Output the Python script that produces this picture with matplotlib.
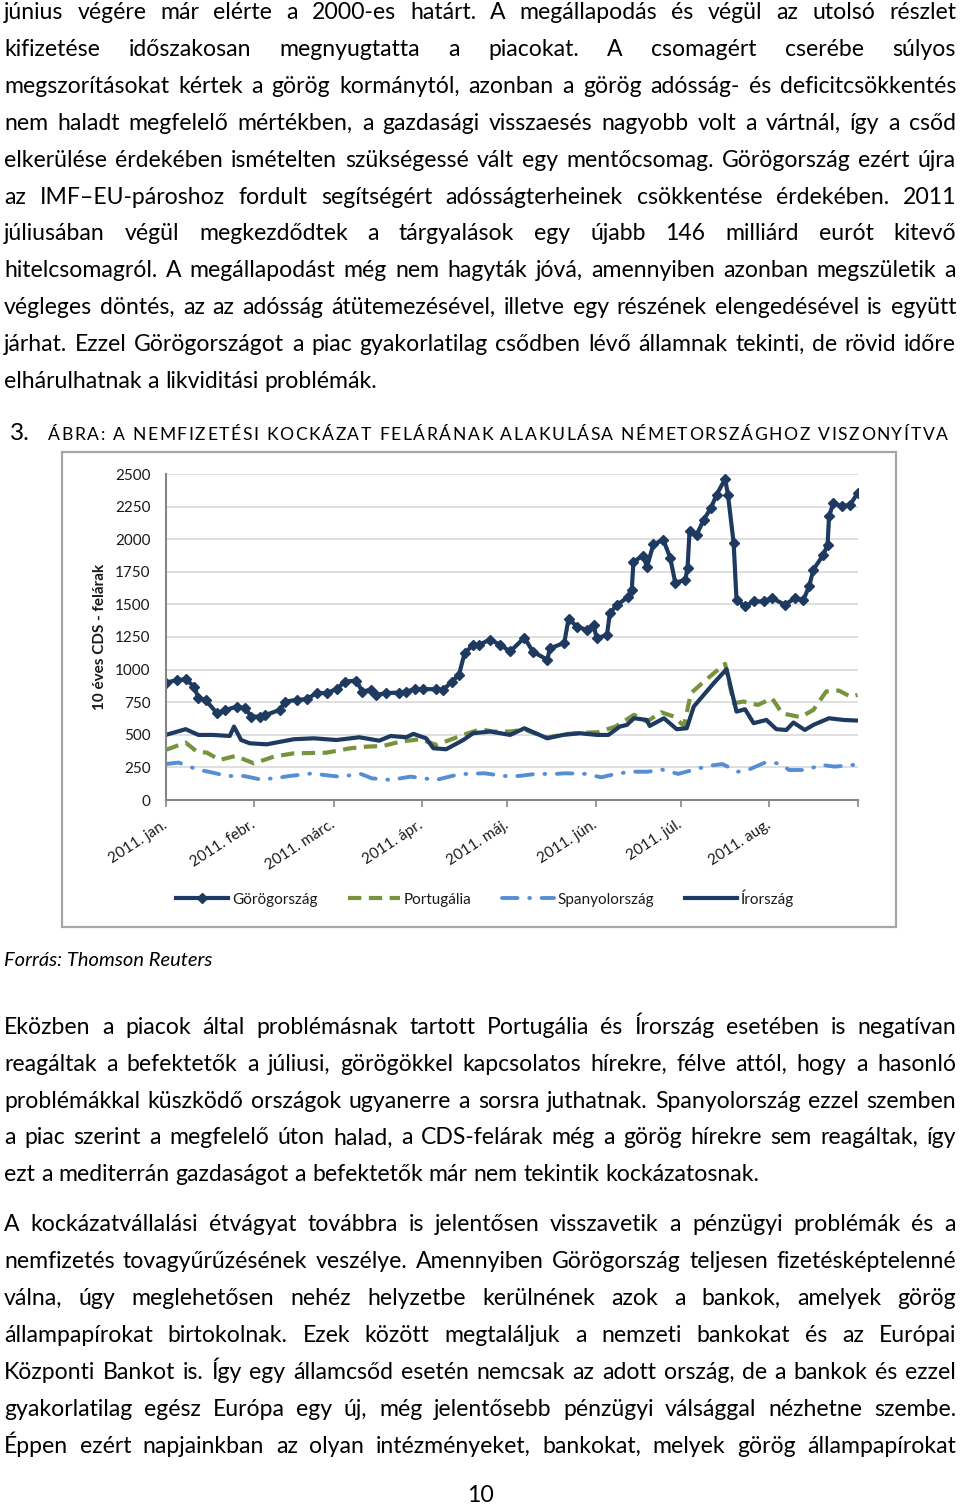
import numpy as np
import pandas as pd
import matplotlib
matplotlib.use('Agg')
import matplotlib.pyplot as plt
from matplotlib.patches import Rectangle
from matplotlib.lines import Line2D

W, H = 960, 1505
FONT = ['Lato', 'DejaVu Sans']

# napok 2011. jan. 1-tol szamolva, ertekek bazispontban
gr_day = [0, 4, 7, 10, 11.5, 14, 18, 21, 25, 28, 30, 33, 35, 40, 42, 46, 49.5, 53, 56.5, 60,
          63, 67, 69, 72, 74, 77.5, 82, 84.5, 87.5, 90.5, 95, 97.5, 100.5, 103, 105, 108, 110, 114,
          117.5, 121, 126, 129, 134, 135, 140, 141.5, 144.5, 148, 150.3, 151.4, 155, 156, 158.5,
          162.5, 163.7, 164.3, 167.8, 169, 171.3, 174.8, 177.2, 179, 182.5, 183.3, 184, 186.5, 189,
          191.5, 193.5, 196.5, 197.5, 199.5, 200.5, 203.5, 206.5, 210, 213, 217.5, 221, 224, 226,
          227.5, 231, 232.5, 233, 234.5, 237.5, 240.5, 243]
gr_val = [900, 920, 925, 870, 780, 768, 665, 690, 717, 704, 640, 640, 652, 690, 755, 768, 773, 820, 820, 850,
          908, 916, 832, 845, 806, 820, 824, 832, 850, 850, 850, 845, 908, 960, 1126, 1190, 1190, 1230,
          1190, 1139, 1245, 1137, 1076, 1163, 1205, 1390, 1329, 1304, 1342, 1240, 1265, 1432, 1495,
          1559, 1610, 1827, 1875, 1785, 1960, 1995, 1858, 1665, 1689, 1779, 2060, 2034, 2150,
          2239, 2341, 2462, 2341, 1970, 1535, 1484, 1523, 1523, 1548, 1497, 1548, 1535, 1638,
          1766, 1881, 1958, 2175, 2277, 2252, 2265, 2354]

pt_day = [0, 7, 11, 14.5, 19, 24.5, 28, 31, 38, 45, 56.5, 65, 70.5, 76.5, 82.5, 89.5, 95, 103.5, 110.5, 115,
          121, 126, 134, 140, 146, 152, 158, 164.5, 169, 174, 178.5, 182, 184.5, 190, 196.5, 199.5,
          203, 208, 213, 216.5, 223, 227.5, 232, 236.5, 240.5, 243]
pt_val = [384, 440, 371, 363, 307, 338, 307, 281, 333, 358, 363, 397, 409, 415, 448, 466, 422, 491, 543, 525,
          525, 540, 478, 505, 515, 520, 563, 653, 601, 673, 640, 568, 819, 926, 1044, 742,
          755, 729, 780, 665, 635, 691, 832, 839, 793, 806]

es_day = [0, 4.5, 11, 16.5, 21.5, 27.5, 33, 38, 43.5, 52, 55.5, 61, 68.5, 72.5, 79, 86, 95, 102, 105.5, 112,
          118.5, 124, 130, 137, 140.5, 147.5, 153, 158, 163.5, 169.5, 174, 180, 186, 190.5, 195.5, 201,
          204.5, 210.5, 215.5, 219, 224.5, 230.5, 235, 241.5]
es_val = [276, 287, 235, 210, 184, 184, 159, 166, 184, 205, 192, 179, 200, 166, 154, 179, 154, 192, 200, 205,
          184, 184, 200, 200, 205, 200, 174, 200, 217, 217, 235, 200, 235, 261, 276, 217,
          230, 287, 281, 230, 230, 269, 256, 269]

ir_day = [0, 7, 11.5, 16.5, 22.5, 24, 26.5, 29.5, 35.5, 45, 52, 60, 68, 75, 79, 84.5, 87, 91.5, 94, 98.5,
          104.5, 108, 114, 121, 126, 134, 139.5, 145.5, 151.5, 155.5, 159.5, 162, 164.5, 169, 170, 175,
          179.5, 183, 185.5, 190, 192.5, 197, 200.5, 203.5, 206.5, 211, 214.5, 218, 220.5, 224.5,
          227.5, 233, 238, 243]
ir_val = [499, 543, 499, 499, 491, 563, 460, 435, 427, 466, 473, 460, 481, 455, 491, 481, 507, 473, 397, 389,
          460, 512, 525, 499, 550, 473, 499, 512, 499, 499, 563, 576, 627, 614, 568, 627,
          543, 550, 717, 832, 896, 1003, 678, 696, 589, 614, 543, 537, 594, 537,
          576, 627, 614, 609]

month_starts = ['2011-01-01', '2011-02-01', '2011-03-01', '2011-04-01', '2011-05-01',
                '2011-06-01', '2011-07-01', '2011-08-01', '2011-09-01']
month_labels = ['2011. jan.', '2011. febr.', '2011. márc.', '2011. ápr.', '2011. máj.',
                '2011. jún.', '2011. júl.', '2011. aug.', '']
series_names = ['Görögország', 'Portugália', 'Spanyolország', 'Írország']
y_ticks = [0, 250, 500, 750, 1000, 1250, 1500, 1750, 2000, 2250, 2500]

para1 = [
    "június végére már elérte a 2000-es határt. A megállapodás és végül az utolsó részlet",
    "kifizetése időszakosan megnyugtatta a piacokat. A csomagért cserébe súlyos",
    "megszorításokat kértek a görög kormánytól, azonban a görög adósság- és deficitcsökkentés",
    "nem haladt megfelelő mértékben, a gazdasági visszaesés nagyobb volt a vártnál, így a csőd",
    "elkerülése érdekében ismételten szükségessé vált egy mentőcsomag. Görögország ezért újra",
    "az IMF–EU-pároshoz fordult segítségért adósságterheinek csökkentése érdekében. 2011",
    "júliusában végül megkezdődtek a tárgyalások egy újabb 146 milliárd eurót kitevő",
    "hitelcsomagról. A megállapodást még nem hagyták jóvá, amennyiben azonban megszületik a",
    "végleges döntés, az az adósság átütemezésével, illetve egy részének elengedésével is együtt",
    "járhat. Ezzel Görögországot a piac gyakorlatilag csődben lévő államnak tekinti, de rövid időre",
    "elhárulhatnak a likviditási problémák.",
]
para2 = [
    "Eközben a piacok által problémásnak tartott Portugália és Írország esetében is negatívan",
    "reagáltak a befektetők a júliusi, görögökkel kapcsolatos hírekre, félve attól, hogy a hasonló",
    "problémákkal küszködő országok ugyanerre a sorsra juthatnak. Spanyolország ezzel szemben",
    "a piac szerint a megfelelő úton halad, a CDS-felárak még a görög hírekre sem reagáltak, így",
    "ezt a mediterrán gazdaságot a befektetők már nem tekintik kockázatosnak.",
]
para3 = [
    "A kockázatvállalási étvágyat továbbra is jelentősen visszavetik a pénzügyi problémák és a",
    "nemfizetés tovagyűrűzésének veszélye. Amennyiben Görögország teljesen fizetésképtelenné",
    "válna, úgy meglehetősen nehéz helyzetbe kerülnének azok a bankok, amelyek görög",
    "állampapírokat birtokolnak. Ezek között megtaláljuk a nemzeti bankokat és az Európai",
    "Központi Bankot is. Így egy államcsőd esetén nemcsak az adott ország, de a bankok és ezzel",
    "gyakorlatilag egész Európa egy új, még jelentősebb pénzügyi válsággal nézhetne szembe.",
    "Éppen ezért napjainkban az olyan intézményeket, bankokat, melyek görög állampapírokat",
]


def fx(x):
    return x / W


def fy(y):
    return 1 - y / H


fig = plt.figure(figsize=(W / 100, H / 100), dpi=100)
fig.patch.set_facecolor('white')
renderer = fig.canvas.get_renderer()


def width_of(s, size, **kw):
    t = fig.text(0, 0, s, fontsize=size, family=FONT, **kw)
    w = t.get_window_extent(renderer).width
    t.remove()
    return w


# betumeret: a leghosszabb sor ferjen ki
L, R = 4, 956
probe = 16
space_probe = width_of('x x', probe) - width_of('xx', probe)
maxw = max(width_of(l, probe) for l in para1 + para2 + para3)
body = min(16.6, probe * (R - L - 4) / maxw)
space_w = space_probe * body / probe


def justify(lines, base0, step, last_left=True):
    for i, line in enumerate(lines):
        y = base0 + i * step
        words = line.split(' ')
        objs = [fig.text(0, fy(y), w, fontsize=body, family=FONT, va='baseline', color='black')
                for w in words]
        ws = [o.get_window_extent(renderer).width for o in objs]
        if (i == len(lines) - 1 and last_left) or len(words) == 1:
            gap = space_w
        else:
            gap = (R - L - sum(ws)) / (len(words) - 1)
        x = L
        for o, w in zip(objs, ws):
            o.set_x(fx(x))
            x += w + gap


justify(para1, 19, 36.9)
justify(para2, 1034, 36.8)
justify(para3, 1231, 37.0, last_left=False)

# abra cim
fig.text(fx(10), fy(440), '3.', fontsize=body + 1, family=FONT, va='baseline')
cap = 'ÁBRA: A NEMFIZETÉSI KOCKÁZAT FELÁRÁNAK ALAKULÁSA NÉMETORSZÁGHOZ VISZONYÍTVA'
csize = 12.6
cobjs = [fig.text(0, fy(440), c, fontsize=csize, family=FONT, va='baseline') for c in cap]
cws = [width_of(c, csize) if c != ' ' else width_of('x x', csize) - width_of('xx', csize) for c in cap]
extra = (948 - 48 - sum(cws)) / (len(cap) - 1)
x = 48
for o, w in zip(cobjs, cws):
    o.set_x(fx(x))
    x += w + extra

# keret
fig.patches.append(Rectangle((fx(62), fy(927)), fx(896) - fx(62), fy(452) - fy(927),
                             transform=fig.transFigure, fill=False, edgecolor='#A6A6A6', lw=1.6))

ax = fig.add_axes([fx(165.7), fy(800), fx(857.5) - fx(165.7), fy(474) - fy(800)])
start = pd.Timestamp('2011-01-01')


def to_dates(days):
    return start + pd.to_timedelta(np.array(days, dtype=float), unit='D')


navy = '#1F3A60'
green = '#77933C'
blue = '#558ED5'

ax.plot(to_dates(es_day), es_val, color=blue, lw=2.8, dashes=(4.0, 3.0, 0.2, 3.0),
        dash_capstyle='round', solid_capstyle='round')
ax.plot(to_dates(pt_day), pt_val, color=green, lw=3.0, dashes=(3.2, 1.8), dash_capstyle='butt')
ax.plot(to_dates(ir_day), ir_val, color=navy, lw=3.0, solid_joinstyle='round')
ax.plot(to_dates(gr_day), gr_val, color=navy, lw=3.0, marker='D', ms=5, mec=navy, mfc=navy,
        solid_joinstyle='round')

ticks = pd.to_datetime(month_starts)
ax.set_xlim(ticks[0], ticks[-1])
ax.set_ylim(0, 2500)
ax.set_yticks(y_ticks)
ax.set_yticklabels([str(v) for v in y_ticks], family=FONT, fontsize=11, color='#1a1a1a')
ax.set_xticks(ticks)
ax.set_xticklabels(month_labels, family=FONT, fontsize=11, color='#1a1a1a')
for lab in ax.get_xticklabels():
    lab.set_rotation(33)
    lab.set_ha('right')
    lab.set_va('center')
    lab.set_rotation_mode('anchor')
ax.tick_params(axis='y', length=0, pad=11)
ax.tick_params(axis='x', length=5, width=1.2, color='#868686', direction='out', pad=12)
ax.grid(axis='y', color='#D9D9D9', lw=1.2)
ax.set_axisbelow(True)
for s in ['top', 'right']:
    ax.spines[s].set_visible(False)
for s in ['left', 'bottom']:
    ax.spines[s].set_color('#868686')
    ax.spines[s].set_linewidth(1.5)

fig.text(fx(100), fy(637), '10 éves CDS - felárak', rotation=90, ha='center', va='center',
         fontsize=11, fontweight='bold', family=FONT, color='#1a1a1a')

handles = [
    Line2D([], [], color=navy, lw=3.0, marker='D', ms=5, mec=navy),
    Line2D([], [], color=green, lw=3.0, dashes=(3.2, 1.8)),
    Line2D([], [], color=blue, lw=2.8, dashes=(4.0, 3.0, 0.2, 3.0), dash_capstyle='round'),
    Line2D([], [], color=navy, lw=3.0),
]
leg = fig.legend(handles, series_names, ncol=4, loc='center', bbox_to_anchor=(fx(485), fy(898)),
                 frameon=False, handlelength=3.4, handletextpad=0.25, columnspacing=2.0,
                 prop={'family': FONT, 'size': 11})
for t in leg.get_texts():
    t.set_color('#1a1a1a')

# forras
fsz = 14
fw = width_of('Forrás: Thomson Reuters', fsz, style='italic')
fig.text(fx(4), fy(966), 'Forrás: Thomson Reuters', fontsize=fsz * 210 / fw, family=FONT,
         style='italic', va='baseline')

fig.text(fx(480), fy(1502), '10', fontsize=body, family=FONT, ha='center', va='baseline')

fig.savefig('out.png', dpi=100, facecolor='white')
